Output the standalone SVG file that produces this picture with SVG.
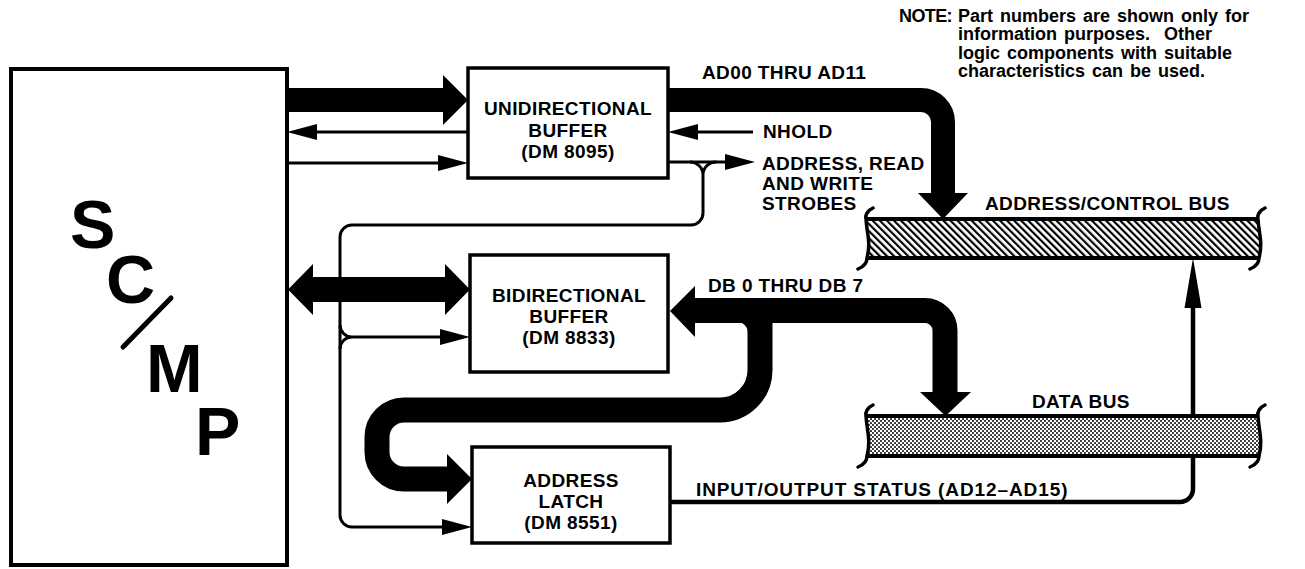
<svg xmlns="http://www.w3.org/2000/svg" width="1305" height="569" viewBox="0 0 1305 569">
<style>
.box{fill:#fff;stroke:#000;stroke-width:3.5}
.t{font-family:"Liberation Sans",Arial,Helvetica,sans-serif;font-weight:bold;fill:#000}
.lbl{font-size:19px;letter-spacing:0.4px}
.mid{text-anchor:middle}
.note{font-size:18px;word-spacing:2px}
.big{font-size:68px}
.thin{fill:none;stroke:#000;stroke-width:3}
.thick{fill:none;stroke:#000;stroke-width:25}
.head{fill:#000;stroke:none}
.edge{fill:none;stroke:#000;stroke-width:4}
.end{fill:none;stroke:#000;stroke-width:3.5;stroke-linecap:round}
</style>
<defs>
<marker id="ah" markerUnits="userSpaceOnUse" markerWidth="30" markerHeight="16" refX="20" refY="8" orient="auto">
<path d="M0,0 L30,8 L0,16 Z" fill="#000"/>
</marker>
<pattern id="hatch" width="5" height="5" patternUnits="userSpaceOnUse" patternTransform="rotate(-45)">
<rect width="2.2" height="5" fill="#000"/>
</pattern>
<pattern id="dots" width="4" height="4" patternUnits="userSpaceOnUse">
<circle cx="1" cy="1" r="1.05" fill="#000"/>
<circle cx="3" cy="3" r="1.05" fill="#000"/>
</pattern>
</defs>
<rect width="1305" height="569" fill="#fff"/>

<g id="scmp">
<rect class="box" x="11" y="69" width="276" height="496" style="stroke-width:4"/>
<text class="t big" x="70" y="248">S</text>
<text class="t big" x="106" y="303">C</text>
<line x1="123" y1="347" x2="171" y2="298" stroke="#000" stroke-width="5" stroke-linecap="round"/>
<text class="t big" x="146" y="392">M</text>
<text class="t big" x="195" y="455">P</text>
</g>

<g id="connectors">
<path class="thick" d="M287,100 H445" style="stroke-width:24"/>
<polygon class="head" points="443,75 468,100 443,125"/>
<path class="thick" d="M668,100 H921 A22,22 0 0 1 943,122 V195" style="stroke-width:24"/>
<polygon class="head" points="918,193 968,193 943,219"/>
<path class="thick" d="M311,289.5 H447"/>
<polygon class="head" points="313,264 288,289.5 313,315"/>
<polygon class="head" points="445,264 470,289.5 445,315"/>
<path class="thick" d="M693,310.5 H925 A20,20 0 0 1 945,330.5 V394"/>
<polygon class="head" points="695,286 670,311 695,337"/>
<polygon class="head" points="920,392 971,392 945.5,416"/>
<path class="thick" d="M760,310 V370 A40,40 0 0 1 720,410 H404 A27,27 0 0 0 377,437 V452 A27,27 0 0 0 404,479 H449"/>
<path class="head" d="M737,322 L748,322 L748,333 A11,11 0 0 0 737,322 Z"/>
<polygon class="head" points="447,454 472,479 447,504"/>
<path class="thin" d="M468,132 H297" marker-end="url(#ah)"/>
<path class="thin" d="M287,163 H458" marker-end="url(#ah)"/>
<path class="thin" d="M753,132 H678" marker-end="url(#ah)"/>
<path class="thin" d="M668,162 H745" marker-end="url(#ah)"/>
<path class="thin" d="M690,162 A13,13 0 0 1 703,175 M716,162 A13,13 0 0 0 703,175"/>
<path class="thin" d="M703,175 V213 A12,12 0 0 1 691,225 H352 A12,12 0 0 0 340,237 V515 A12,12 0 0 0 352,527 H462" marker-end="url(#ah)"/>
<path class="thin" d="M340,325 A12,12 0 0 0 352,337 M340,349 A12,12 0 0 1 352,337"/>
<path class="thin" d="M352,337 H460" marker-end="url(#ah)"/>
<path fill="none" stroke="#000" stroke-width="4.5" d="M670,502 H1180 A13,13 0 0 0 1193,489 V300"/>
<polygon class="head" points="1184.5,308 1201.5,308 1193,258"/>
</g>

<g id="addr-bus">
<path d="M866,219 H1258 C1259,235 1263,242 1259,258 H867 C871,242 867,235 866,219 Z" fill="#fff"/>
<path d="M866,219 H1258 C1259,235 1263,242 1259,258 H867 C871,242 867,235 866,219 Z" fill="url(#hatch)"/>
<path class="edge" d="M866,219 H1258 M867,258 H1259"/>
<path class="end" d="M873,208 C868,210 865,215 866,219 C867,235 871,242 867,258 C867,263 863,267 858,269"/>
<path class="end" d="M1265,208 C1260,210 1257,215 1258,219 C1259,235 1263,242 1259,258 C1259,263 1255,267 1250,269"/>
<text class="t lbl" x="985" y="210">ADDRESS/CONTROL BUS</text>
</g>

<g id="data-bus">
<path d="M866,416 H1258 C1259,432 1263,440 1259,456 H867 C871,440 867,432 866,416 Z" fill="#fff"/>
<path d="M866,416 H1258 C1259,432 1263,440 1259,456 H867 C871,440 867,432 866,416 Z" fill="url(#dots)" opacity="0.85"/>
<path class="edge" d="M866,416 H1258 M867,456 H1259"/>
<path class="end" d="M873,405 C868,407 865,412 866,416 C867,432 871,440 867,456 C867,461 863,465 858,467"/>
<path class="end" d="M1265,405 C1260,407 1257,412 1258,416 C1259,432 1263,440 1259,456 C1259,461 1255,465 1250,467"/>
<text class="t lbl" x="1032" y="408">DATA BUS</text>
</g>

<g id="unidir">
<rect class="box" x="468" y="68" width="200" height="110"/>
<text class="t lbl mid" x="568" y="115">UNIDIRECTIONAL</text>
<text class="t lbl mid" x="568" y="137">BUFFER</text>
<text class="t lbl mid" x="568" y="158">(DM 8095)</text>
</g>

<g id="bidir">
<rect class="box" x="470" y="255" width="198" height="117"/>
<text class="t lbl mid" x="569" y="302">BIDIRECTIONAL</text>
<text class="t lbl mid" x="569" y="323">BUFFER</text>
<text class="t lbl mid" x="569" y="344">(DM 8833)</text>
</g>

<g id="latch">
<rect class="box" x="472" y="447" width="198" height="96"/>
<text class="t lbl mid" x="571" y="487">ADDRESS</text>
<text class="t lbl mid" x="571" y="508">LATCH</text>
<text class="t lbl mid" x="571" y="529">(DM 8551)</text>
</g>

<g id="labels">
<text class="t lbl" x="702" y="79">AD00 THRU AD11</text>
<text class="t lbl" x="763" y="138">NHOLD</text>
<text class="t lbl" x="762" y="170">ADDRESS, READ</text>
<text class="t lbl" x="762" y="190">AND WRITE</text>
<text class="t lbl" x="762" y="210">STROBES</text>
<text class="t lbl" x="708" y="292">DB 0 THRU DB 7</text>
<text class="t lbl" x="696" y="496" style="letter-spacing:0.9px">INPUT/OUTPUT STATUS (AD12–AD15)</text>
</g>

<g id="note">
<text class="t note" x="899" y="22" style="letter-spacing:-0.6px">NOTE:</text>
<text class="t note" x="958" y="22">Part numbers are shown only for</text>
<text class="t note" x="958" y="40" xml:space="preserve">information purposes.  Other</text>
<text class="t note" x="958" y="59">logic components with suitable</text>
<text class="t note" x="958" y="77">characteristics can be used.</text>
</g>
</svg>
